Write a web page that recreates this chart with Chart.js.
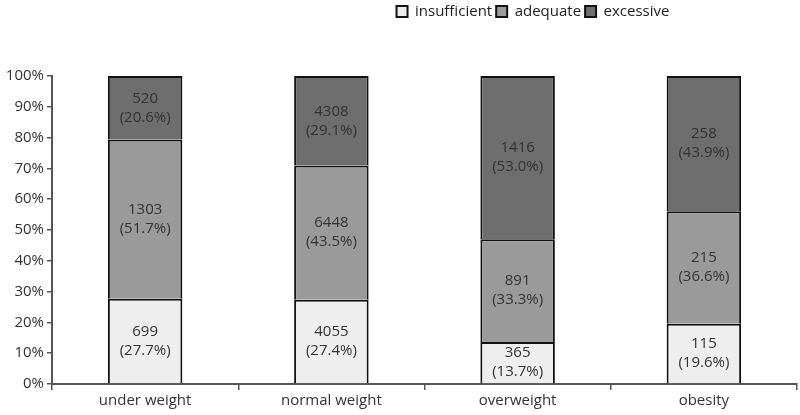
<!DOCTYPE html>
<html lang="en">
<head>
  <meta charset="UTF-8">
  <title>Stacked percentage chart</title>
  <style>
    * { margin: 0; padding: 0; box-sizing: border-box; }
    body { background: #fff; width: 800px; height: 415px; overflow: hidden; }
    .chart-container { position: relative; width: 800px; height: 415px; }
  </style>
</head>
<body>
  <div class="chart-container">
    <canvas id="chart"></canvas>
  </div>

  <script src="https://cdn.jsdelivr.net/npm/chart.js@4.4.1/dist/chart.umd.min.js"></script>
  <script>
    const categories = ['under weight', 'normal weight', 'overweight', 'obesity'];
    const insufficient = [699, 4055, 365, 115];
    const adequate = [1303, 6448, 891, 215];
    const excessive = [520, 4308, 1416, 258];
    const yTicks = [0, 10, 20, 30, 40, 50, 60, 70, 80, 90, 100];

    const totals = categories.map((_, i) => insufficient[i] + adequate[i] + excessive[i]);
    const toPct = arr => arr.map((v, i) => v / totals[i] * 100);

    const FONT = "'Open Sans', sans-serif";

    const series = [
      { label: 'insufficient', counts: insufficient, color: '#eeeeee' },
      { label: 'adequate', counts: adequate, color: '#9a9a9a' },
      { label: 'excessive', counts: excessive, color: '#6e6e6e' }
    ];

    // count + (pct%) in the middle of every segment
    const segmentLabels = {
      id: 'segmentLabels',
      afterDatasetsDraw(chart) {
        const ctx = chart.ctx;
        ctx.save();
        ctx.font = '15px ' + FONT;
        ctx.fillStyle = '#333';
        ctx.textAlign = 'center';
        ctx.textBaseline = 'middle';
        chart.data.datasets.forEach((ds, di) => {
          chart.getDatasetMeta(di).data.forEach((bar, i) => {
            const cy = (bar.y + bar.base) / 2;
            ctx.fillText(String(ds.counts[i]), bar.x, cy - 9.5);
            ctx.fillText('(' + ds.data[i].toFixed(1) + '%)', bar.x, cy + 9.5);
          });
        });
        ctx.restore();
      }
    };

    // make the legend taller and shift it right like the original
    const legendSpace = {
      id: 'legendSpace',
      beforeInit(chart) {
        const orig = chart.legend.fit;
        chart.legend.fit = function () {
          orig.call(this);
          this.height = 76;
        };
      },
      beforeDraw(chart) {
        chart.legend.left = 133;
        chart.legend.right = 800 + 133;
      }
    };

    new Chart(document.getElementById('chart'), {
      type: 'bar',
      data: {
        labels: categories,
        datasets: series.map(s => ({
          label: s.label,
          counts: s.counts,
          data: toPct(s.counts),
          backgroundColor: s.color,
          borderColor: '#111',
          borderWidth: 2,
          barPercentage: 0.4,
          categoryPercentage: 1
        }))
      },
      options: {
        responsive: true,
        maintainAspectRatio: false,
        animation: false,
        layout: { padding: { top: 0, right: 3, bottom: 0, left: 0 } },
        plugins: {
          legend: {
            position: 'top',
            align: 'center',
            labels: {
              color: '#222',
              font: { family: FONT, size: 15 },
              boxWidth: 11,
              boxHeight: 11,
              padding: 4
            }
          },
          tooltip: { enabled: false }
        },
        scales: {
          x: {
            stacked: true,
            grid: { offset: true, drawOnChartArea: false, drawTicks: true, tickLength: 6, color: '#555', lineWidth: 1.5 },
            border: { color: '#555', width: 2 },
            ticks: { color: '#333', font: { family: FONT, size: 15 }, padding: 2 },
            afterFit(scale) { scale.height = 31; }
          },
          y: {
            stacked: true,
            min: 0,
            max: 100,
            afterBuildTicks(scale) { scale.ticks = yTicks.map(v => ({ value: v })); },
            grid: { drawOnChartArea: false, drawTicks: true, tickLength: 5, color: '#555', lineWidth: 1.5 },
            border: { color: '#555', width: 2 },
            ticks: { color: '#333', font: { family: FONT, size: 15 }, padding: 3, callback: v => v + '%' },
            afterFit(scale) { scale.width = 52; }
          }
        }
      },
      plugins: [segmentLabels, legendSpace]
    });
  </script>
</body>
</html>
